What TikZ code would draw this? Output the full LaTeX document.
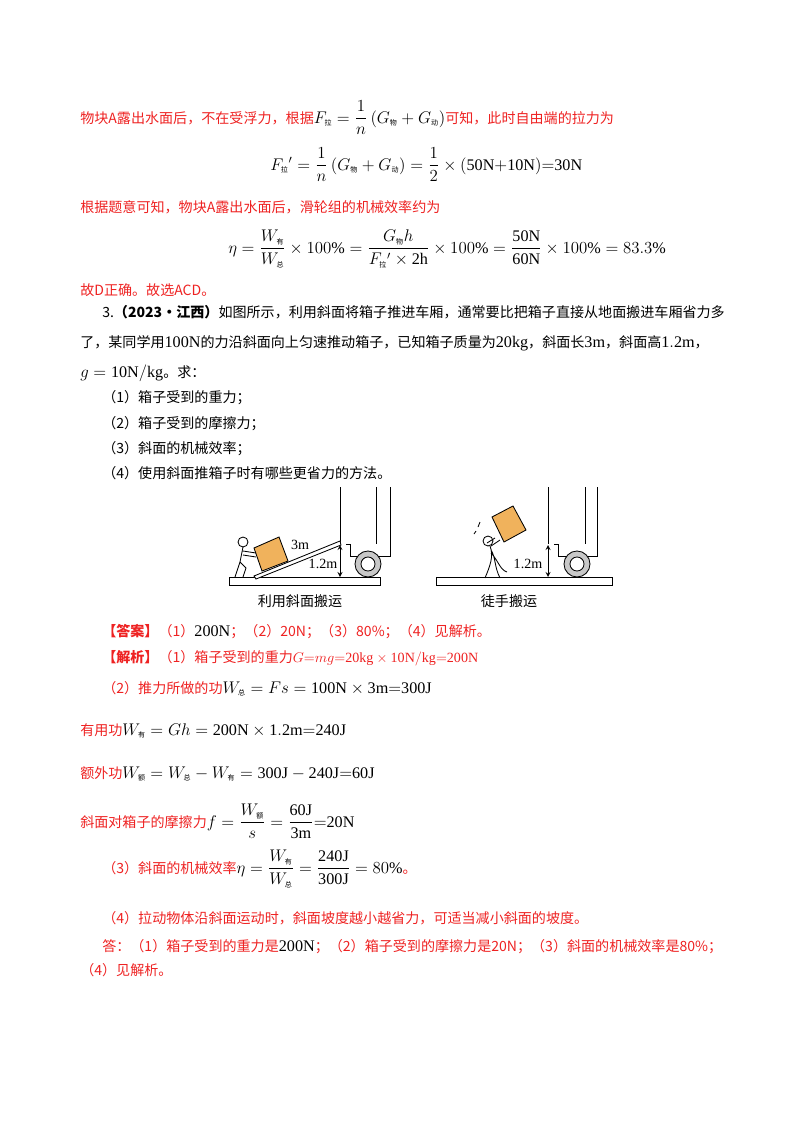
\documentclass[tikz,border=0pt]{standalone}
\usepackage{amsmath}
\usepackage{fontspec}
\newfontfamily\cjk{Noto Sans CJK SC}
\setmainfont{Liberation Serif}
\definecolor{ansred}{RGB}{238,34,34}
\definecolor{boxfill}{RGB}{240,178,92}
\definecolor{wheelgray}{RGB}{200,200,200}
\newcommand\zs[1]{\mbox{\cjk\fontsize{5}{6}\selectfont #1}}
\newcommand\fm[1]{{\color{black}\fontsize{11.5}{13}\selectfont$#1$}}
\tikzset{
  txt/.style={anchor=base west, inner sep=0, font=\cjk\fontsize{10}{13}\selectfont},
  ans/.style={txt, text=ansred},
  captext/.style={inner sep=0, font=\cjk\fontsize{10}{12}\selectfont},
  dimtext/.style={inner sep=0, font=\rmfamily\fontsize{10}{12}\selectfont},
  slab/.style={draw, line width=0.6pt, fill=white},
  thin/.style={line width=0.6pt},
  hgt/.style={line width=0.6pt, <->, >=stealth}
}
\begin{document}
\begin{tikzpicture}[x=0.025cm,y=-0.025cm]
\useasboundingbox (0,0) rectangle (800,1132);
% solution of the previous problem
\node[ans] (l1) at (80,123) {物块A露出水面后，不在受浮力，根据\fm{F_{\zs{拉}}=\dfrac{1}{n}\left(G_{\zs{物}}+G_{\zs{动}}\right)}可知，此时自由端的拉力为};
\node[txt] (f1) at (270,170) {\fm{F_{\zs{拉}}{}'=\dfrac{1}{n}\left(G_{\zs{物}}+G_{\zs{动}}\right)=\dfrac{1}{2}\times(\mathrm{50N{+}10N}){=}\mathrm{30N}}};
\node[ans] (l2) at (80,212) {根据题意可知，物块A露出水面后，滑轮组的机械效率约为};
\node[txt] (f2) at (228,253) {\fm{\eta=\dfrac{W_{\zs{有}}}{W_{\zs{总}}}\times100\%=\dfrac{G_{\zs{物}}h}{F_{\zs{拉}}{}'\times\mathrm{2h}}\times100\%=\dfrac{\mathrm{50N}}{\mathrm{60N}}\times100\%=83.3\%}};
\node[ans] (l3) at (80,295) {故D正确。故选ACD。};
% problem 3
\node[txt] (q1) at (102,317) {3.\textbf{（2023•江西）}如图所示，利用斜面将箱子推进车厢，通常要比把箱子直接从地面搬进车厢省力多};
\node[txt] (q2) at (80,347) {了，某同学用\fm{\mathrm{100N}}的力沿斜面向上匀速推动箱子，已知箱子质量为\fm{\mathrm{20kg}}，斜面长\fm{\mathrm{3m}}，斜面高\fm{\mathrm{1.2m}}，};
\node[txt] (q3) at (80,377) {\fm{g=\mathrm{10N/kg}}。求：};
\foreach \y/\t in {402/（1）箱子受到的重力；,428/（2）箱子受到的摩擦力；,453/（3）斜面的机械效率；,478/（4）使用斜面推箱子时有哪些更省力的方法。} {
  \node[txt] at (102,\y) {\t};
}
% left picture
\draw[slab] (229,577) rectangle (380,585);
\draw[thin] (340,487) -- (340,544);
\draw[thin] (376,487) -- (376,544) (390,487) -- (390,556) -- (350,556) -- (350,544) -- (346,544);
\draw[thin, fill=wheelgray] (368,564) circle (13);
\draw[thin, fill=white] (368,564) circle (7);
\draw[thin, fill=white] (254,576) -- (340,541) -- (341,545) -- (256,579) -- cycle;
\draw[thin, fill=boxfill] (254,548) -- (279,537) -- (288,561) -- (262,571) -- cycle;
\draw[hgt] (340,545) -- (340,577);
\node[dimtext] (s1) at (300,545) {3m};
\node[dimtext] (h1) at (323,564) {1.2m};
\draw[thin, fill=white] (243,542) circle (5);
\draw[thin] (243,547) -- (240,562) (243,551) -- (256,553) (243,555) -- (256,557)
  (240,562) -- (235,577) (240,562) -- (246,568) -- (243,577);
\node[captext] (c1) at (300,601) {利用斜面搬运};
% right picture
\draw[slab] (436,577) rectangle (612,585);
\draw[thin] (548,487) -- (548,544);
\draw[thin] (585,487) -- (585,544) (597,487) -- (597,556) -- (558,556) -- (558,544) -- (554,544);
\draw[thin, fill=wheelgray] (577,564) circle (13);
\draw[thin, fill=white] (577,564) circle (7);
\draw[hgt] (548,545) -- (548,577);
\node[dimtext] (h2) at (528,564) {1.2m};
\draw[thin, fill=boxfill] (492,517) -- (513,506) -- (526,530) -- (504,542) -- cycle;
\draw[thin, fill=white] (488,541) circle (5);
\draw[thin] (490,546) .. controls (494,556) and (490,566) .. (485,578)
  (491,550) .. controls (496,558) and (494,566) .. (500,578)
  (491,553) .. controls (498,560) and (500,570) .. (507,572)
  (487,543) -- (495,538) (491,546) -- (500,540);
\draw[thin] (478,527) -- (480,522) (474,534) -- (476,531);
\node[captext] (c2) at (509,601) {徒手搬运};
% answer
\node[ans] (a0) at (102,636) {\textbf{【答案】}（1）\fm{\mathrm{200N}}；（2）20N；（3）80\%；（4）见解析。};
\node[ans] (a1) at (102,662) {\textbf{【解析】}（1）箱子受到的重力$G{=}mg{=}\mathrm{20kg}\times\mathrm{10N/kg{=}200N}$};
\node[ans] (a2) at (102,693) {（2）推力所做的功\fm{W_{\zs{总}}=Fs=\mathrm{100N}\times\mathrm{3m{=}300J}}};
\node[ans] (a3) at (80,735) {有用功\fm{W_{\zs{有}}=Gh=\mathrm{200N}\times\mathrm{1.2m{=}240J}}};
\node[ans] (a4) at (80,778) {额外功\fm{W_{\zs{额}}=W_{\zs{总}}-W_{\zs{有}}=\mathrm{300J}-\mathrm{240J{=}60J}}};
\node[ans] (a5) at (80,827) {斜面对箱子的摩擦力\fm{f=\dfrac{W_{\zs{额}}}{s}=\dfrac{\mathrm{60J}}{\mathrm{3m}}\mathrm{{=}20N}}};
\node[ans] (a6) at (102,873) {（3）斜面的机械效率\fm{\eta=\dfrac{W_{\zs{有}}}{W_{\zs{总}}}=\dfrac{\mathrm{240J}}{\mathrm{300J}}=80\%}。};
\node[ans] (a7) at (102,923) {（4）拉动物体沿斜面运动时，斜面坡度越小越省力，可适当减小斜面的坡度。};
\node[ans] (a8) at (102,951) {答：（1）箱子受到的重力是\fm{\mathrm{200N}}；（2）箱子受到的摩擦力是20N；（3）斜面的机械效率是80\%；};
\node[ans] (a9) at (80,975) {（4）见解析。};
\end{tikzpicture}
\end{document}
